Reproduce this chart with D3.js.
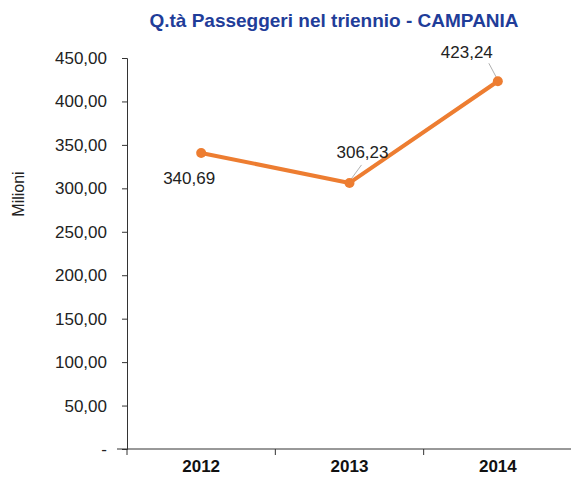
<!DOCTYPE html>
<html>
<head>
<meta charset="utf-8">
<script src="https://cdn.jsdelivr.net/npm/d3@7"></script>
<style>
  body { margin: 0; background: #fff; }
  svg text { font-family: "Liberation Sans", Arial, sans-serif; }
</style>
</head>
<body>
<div id="chart"></div>
<script>
const years = ["2012", "2013", "2014"];
const passengers = [340.69, 306.23, 423.24];
const yTicks = [0, 50, 100, 150, 200, 250, 300, 350, 400, 450];
const titleText = "Q.tà Passeggeri nel triennio - CAMPANIA";
const yTitle = "Milioni";

const fmt = v => v === 0 ? "-" : d3.format(".2f")(v).replace(".", ",");

const margin = { top: 58, right: 0, bottom: 28, left: 127 };
const width = 571 - margin.left - margin.right;
const height = 477 - margin.top - margin.bottom;

const svg = d3.select("#chart").append("svg")
  .attr("width", 571)
  .attr("height", 477);

const g = svg.append("g")
  .attr("transform", `translate(${margin.left},${margin.top})`);

const x = d3.scaleBand().domain(years).range([0, 445]);
const y = d3.scaleLinear().domain([0, 450]).range([height, 0]);

// title
svg.append("text")
  .attr("x", 334)
  .attr("y", 27)
  .attr("text-anchor", "middle")
  .style("font-size", "19px")
  .style("font-weight", "bold")
  .style("fill", "#1F3D99")
  .text(titleText);

// y axis
const yAxis = g.append("g")
  .call(d3.axisLeft(y).tickValues(yTicks).tickFormat(fmt).tickSize(5).tickPadding(15));
yAxis.select(".domain").attr("stroke", "#333");
yAxis.selectAll(".tick line").attr("stroke", "#333");
yAxis.selectAll("text").style("font-size", "17px").style("fill", "#222");

// x axis
const xAxis = g.append("g")
  .attr("transform", `translate(0,${height})`)
  .call(d3.axisBottom(x).tickSize(0).tickPadding(11));
xAxis.select(".domain").attr("stroke", "#333").attr("d", `M-10,0H${x.range()[1]}`);
xAxis.selectAll("text").style("font-size", "17px").style("font-weight", "bold").style("fill", "#111");
xAxis.selectAll(".sep")
  .data(years.concat(["end"]))
  .enter().append("line")
  .attr("x1", (d, i) => i * x.bandwidth())
  .attr("x2", (d, i) => i * x.bandwidth())
  .attr("y1", 0).attr("y2", 6)
  .attr("stroke", "#333");

// y title
svg.append("text")
  .attr("transform", "translate(24,194) rotate(-90)")
  .attr("text-anchor", "middle")
  .style("font-size", "16px")
  .style("fill", "#222")
  .text(yTitle);

const data = years.map((yr, i) => ({ year: yr, value: passengers[i] }));
const cx = d => x(d.year) + x.bandwidth() / 2;

// line
g.append("path")
  .datum(data)
  .attr("fill", "none")
  .attr("stroke", "#ED7D31")
  .attr("stroke-width", 4)
  .attr("stroke-linejoin", "round")
  .attr("d", d3.line().x(cx).y(d => y(d.value)));

// leader lines for labels: [x1, y1, x2, y2] relative to the point
const leaders = [null, [1, -3, 12, -18], [-1, -3, -9, -18]];
g.selectAll(".leader")
  .data(data.filter((d, i) => leaders[i]))
  .enter().append("line")
  .attr("x1", d => cx(d) + leaders[years.indexOf(d.year)][0])
  .attr("y1", d => y(d.value) + leaders[years.indexOf(d.year)][1])
  .attr("x2", d => cx(d) + leaders[years.indexOf(d.year)][2])
  .attr("y2", d => y(d.value) + leaders[years.indexOf(d.year)][3])
  .attr("stroke", "#b0b0b0")
  .attr("stroke-width", 1);

// markers
g.selectAll(".dot")
  .data(data)
  .enter().append("circle")
  .attr("cx", cx)
  .attr("cy", d => y(d.value))
  .attr("r", 5)
  .attr("fill", "#ED7D31");

// data labels
const labelOffsets = [[-12, 31], [13, -25], [-31, -23]];
g.selectAll(".lbl")
  .data(data)
  .enter().append("text")
  .attr("x", (d, i) => cx(d) + labelOffsets[i][0])
  .attr("y", (d, i) => y(d.value) + labelOffsets[i][1])
  .attr("text-anchor", "middle")
  .style("font-size", "17px")
  .style("fill", "#222")
  .text(d => fmt(d.value));
</script>
</body>
</html>
